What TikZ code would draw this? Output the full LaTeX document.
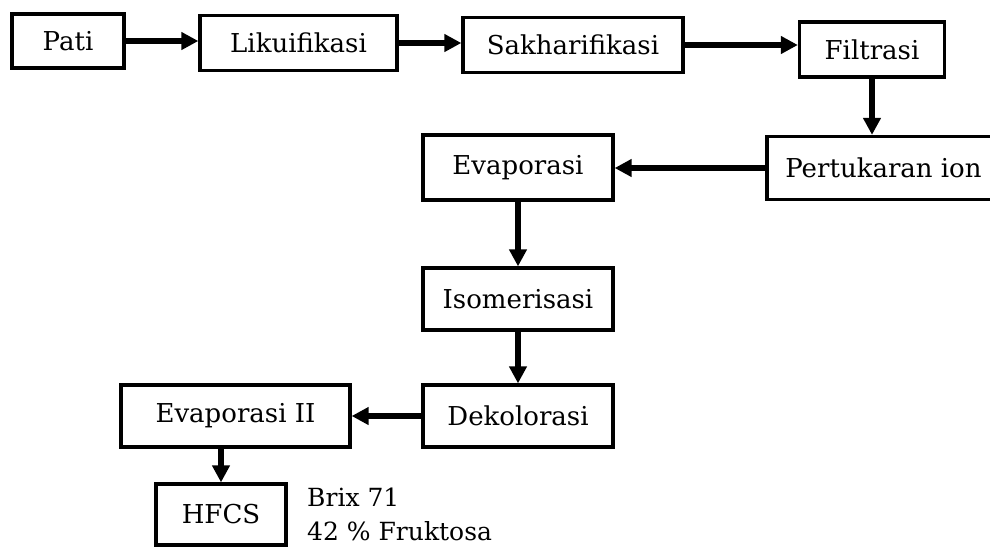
\documentclass[tikz,border=0pt]{standalone}
\usepackage{fontspec}
\setmainfont{DejaVu Serif}
\usetikzlibrary{arrows.meta}
\begin{document}
\begin{tikzpicture}[x=1pt,y=-1pt,
  stage/.style={draw, line width=3.3pt, inner sep=0pt, font=\fontsize{26}{30}\selectfont},
  flow/.style={line width=5.5pt, -{Triangle[length=17pt,width=17pt]}}]
\useasboundingbox (0,0) rectangle (990,547);

% process stages
\node[stage, minimum width=112pt, minimum height=54pt] (pati)  at (68,41)    {Pati};
\node[stage, minimum width=197pt, minimum height=55pt] (liku)  at (298.5,43) {Likuifikasi};
\node[stage, minimum width=220pt, minimum height=55pt] (sakh)  at (573,45)   {Sakharifikasi};
\node[stage, minimum width=145pt, minimum height=55pt] (filt)  at (872,49.5) {Filtrasi};
\node[stage, minimum width=233pt, minimum height=63pt] (pert)  at (883.5,168){Pertukaran ion};
\node[stage, minimum width=190pt, minimum height=65pt] (evap)  at (518,167.5){Evaporasi};
\node[stage, minimum width=190pt, minimum height=62pt] (iso)   at (518,299)  {Isomerisasi};
\node[stage, minimum width=190pt, minimum height=62pt] (dek)   at (518,416)  {Dekolorasi};
\node[stage, minimum width=229pt, minimum height=62pt] (evap2) at (235.5,416){Evaporasi II};
\node[stage, minimum width=130pt, minimum height=61pt] (hfcs)  at (221,514.5){HFCS};

% product specification
\node[anchor=north west, align=left, inner sep=0pt,
      font=\fontsize{25}{34}\selectfont] (spec) at (307,488)
  {Brix 71\\42 \% Fruktosa};

% flow arrows
\draw[flow] (pati.east) -- (pati.east -| liku.west);
\draw[flow] (liku.east) -- (liku.east -| sakh.west);
\draw[flow] (sakh.east) -- (sakh.east -| filt.west);
\draw[flow] (filt.south) -- (filt.south |- pert.north);
\draw[flow] (pert.west) -- (pert.west -| evap.east);
\draw[flow] (evap.south) -- (iso.north);
\draw[flow] (iso.south) -- (dek.north);
\draw[flow] (dek.west) -- (dek.west -| evap2.east);
\draw[flow] (hfcs.north |- evap2.south) -- (hfcs.north);
\end{tikzpicture}
\end{document}
